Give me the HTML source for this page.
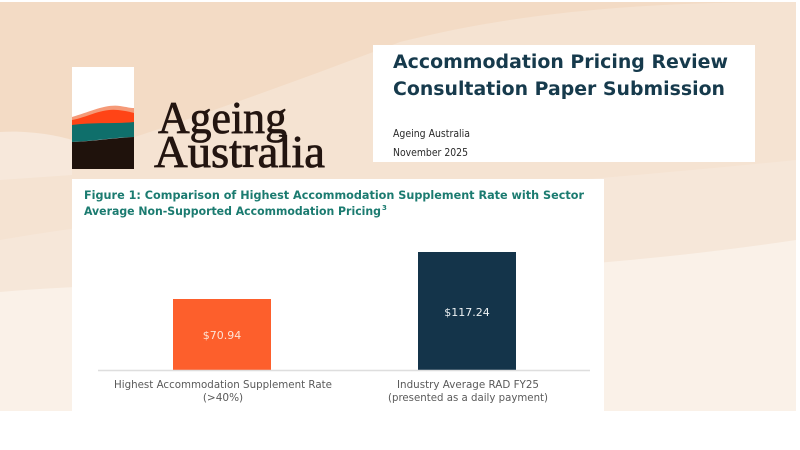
<!DOCTYPE html>
<html>
<head>
<meta charset="utf-8">
<style>
  html, body { margin: 0; padding: 0; background: #ffffff; }
  body { width: 800px; height: 450px; overflow: hidden; position: relative; }
  svg { position: absolute; left: 0; top: 0; }
</style>
</head>
<body>
<svg width="800" height="450" viewBox="0 0 800 450" xmlns="http://www.w3.org/2000/svg">
  <!-- background -->
  <rect x="0" y="0" width="800" height="450" fill="#ffffff"/>
  <rect x="0" y="2" width="796" height="409" fill="#f3dbc5"/>
  <!-- lighter diagonal band from top-right -->
  <path d="M796 2 L796 230 L0 330 L0 178 C120 145 260 95 400 42 C520 12 640 2 796 2 Z" fill="#f5e3d2"/>
  <path d="M0 132 C30 130 60 136 72 140 L72 175 L0 180 Z" fill="#f7e8db"/>
  <!-- lower light region -->
  <path d="M0 240 C200 205 500 190 796 160 L796 411 L0 411 Z" fill="#f6e7d9"/>
  <path d="M0 292 C200 275 500 285 796 240 L796 411 L0 411 Z" fill="#faf1e8"/>

  <!-- title box -->
  <rect x="373" y="45" width="382" height="117" fill="#ffffff"/>
  <text x="393" y="68" font-family="DejaVu Sans, Liberation Sans, sans-serif" font-weight="bold" font-size="18.5" fill="#163a4c" textLength="335" lengthAdjust="spacingAndGlyphs">Accommodation Pricing Review</text>
  <text x="393" y="95" font-family="DejaVu Sans, Liberation Sans, sans-serif" font-weight="bold" font-size="18.5" fill="#163a4c" textLength="332" lengthAdjust="spacingAndGlyphs">Consultation Paper Submission</text>
  <text x="393" y="137" font-family="DejaVu Sans, Liberation Sans, sans-serif" font-size="10.5" fill="#2a2a2a" textLength="77" lengthAdjust="spacingAndGlyphs">Ageing Australia</text>
  <text x="393" y="156" font-family="DejaVu Sans, Liberation Sans, sans-serif" font-size="10.5" fill="#2a2a2a" textLength="75" lengthAdjust="spacingAndGlyphs">November 2025</text>

  <!-- logo mark -->
  <rect x="72" y="67" width="62" height="102" fill="#ffffff"/>
  <path d="M72 117 C90 112 105 104 120 106 C126 107 131 108 134 108 L134 122 L72 125 Z" fill="#f59a78"/>
  <path d="M72 120 C88 117 102 108 118 110 C126 111 131 112 134 113 L134 124 C118 126 100 128 72 127 Z" fill="#ff4416"/>
  <path d="M72 125 C95 122 115 124 134 122 L134 137 C110 138 95 141 72 142 Z" fill="#0f6f6b"/>
  <path d="M72 142 C95 141 112 138 134 137 L134 169 L72 169 Z" fill="#1f120c"/>

  <!-- logo wordmark -->
  <text x="158" y="133" font-family="Liberation Serif, serif" font-size="46" fill="#231510" stroke="#231510" stroke-width="0.8" textLength="129" lengthAdjust="spacingAndGlyphs">Ageing</text>
  <text x="154" y="167" font-family="Liberation Serif, serif" font-size="46" fill="#231510" stroke="#231510" stroke-width="0.8" textLength="171" lengthAdjust="spacingAndGlyphs">Australia</text>

  <!-- chart box -->
  <rect x="72" y="179" width="532" height="233" fill="#ffffff"/>
  <text x="84" y="199" font-family="DejaVu Sans, Liberation Sans, sans-serif" font-weight="bold" font-size="11.5" fill="#1b7b70" textLength="500" lengthAdjust="spacingAndGlyphs">Figure 1: Comparison of Highest Accommodation Supplement Rate with Sector</text>
  <text x="84" y="215" font-family="DejaVu Sans, Liberation Sans, sans-serif" font-weight="bold" font-size="11.5" fill="#1b7b70" textLength="297" lengthAdjust="spacingAndGlyphs">Average Non-Supported Accommodation Pricing</text>
  <text x="382" y="210" font-family="DejaVu Sans, Liberation Sans, sans-serif" font-weight="bold" font-size="7" fill="#1b7b70">3</text>

  <!-- bars -->
  <rect x="173" y="299" width="98" height="71" fill="#fd5f2c"/>
  <rect x="418" y="252" width="98" height="118" fill="#14344a"/>
  <line x1="98" y1="370.5" x2="590" y2="370.5" stroke="#dedede" stroke-width="1.5"/>

  <text x="222" y="339" text-anchor="middle" font-family="DejaVu Sans, Liberation Sans, sans-serif" font-size="11" fill="#fde3d6">$70.94</text>
  <text x="467" y="316" text-anchor="middle" font-family="DejaVu Sans, Liberation Sans, sans-serif" font-size="11" fill="#eef2f4">$117.24</text>

  <!-- category labels -->
  <text x="223" y="388" text-anchor="middle" font-family="DejaVu Sans, Liberation Sans, sans-serif" font-size="10.5" fill="#5a5a5a" textLength="218" lengthAdjust="spacingAndGlyphs">Highest Accommodation Supplement Rate</text>
  <text x="223" y="401" text-anchor="middle" font-family="DejaVu Sans, Liberation Sans, sans-serif" font-size="10.5" fill="#5a5a5a">(&gt;40%)</text>
  <text x="468" y="388" text-anchor="middle" font-family="DejaVu Sans, Liberation Sans, sans-serif" font-size="10.5" fill="#5a5a5a" textLength="142" lengthAdjust="spacingAndGlyphs">Industry Average RAD FY25</text>
  <text x="468" y="401" text-anchor="middle" font-family="DejaVu Sans, Liberation Sans, sans-serif" font-size="10.5" fill="#5a5a5a" textLength="160" lengthAdjust="spacingAndGlyphs">(presented as a daily payment)</text>
</svg>
</body>
</html>
